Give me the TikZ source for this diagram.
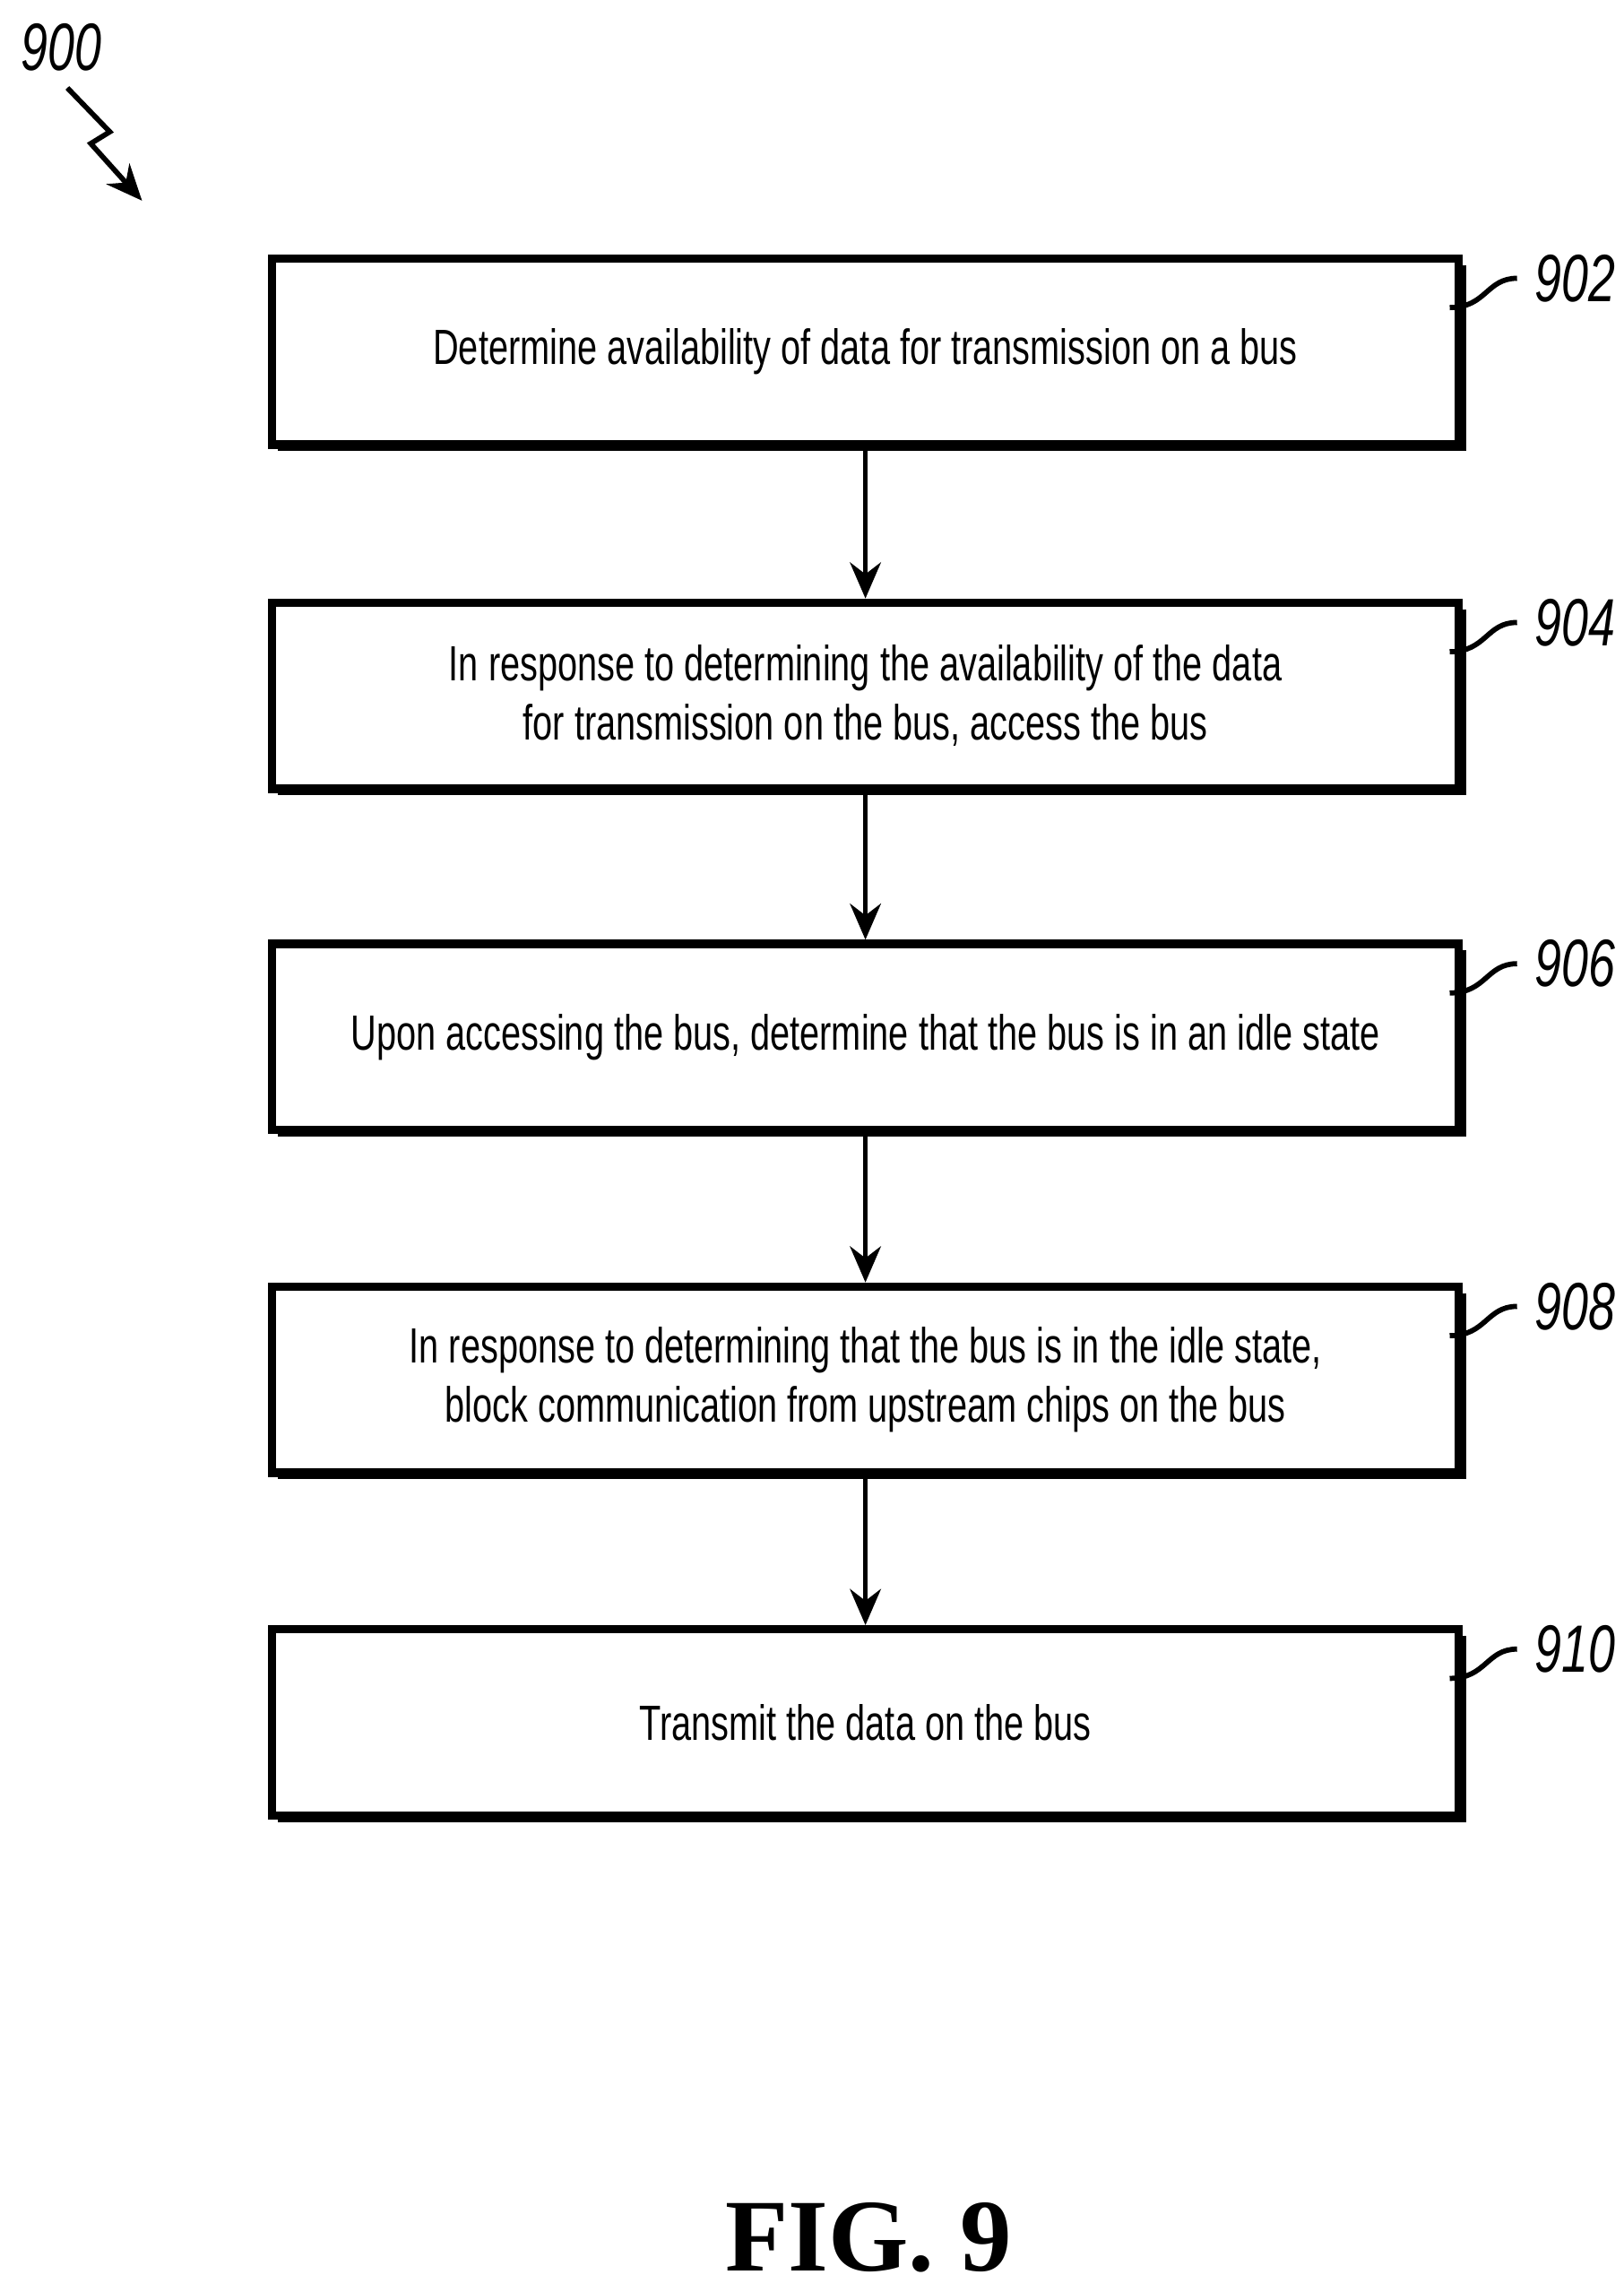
\documentclass[tikz,border=0pt]{standalone}
\usepackage{fontspec}
\setmainfont{Liberation Sans}[FakeStretch=0.72]
\newfontfamily\figfont{Liberation Serif}
\usetikzlibrary{arrows.meta}
\begin{document}
\begin{tikzpicture}[x=0.01cm,y=-0.01cm,
  stepbox/.style={draw,line width=1.6pt,fill=white,minimum width=8.1cm,minimum height=1.27cm,inner sep=0pt,align=center,font=\fontsize{9.6}{11.5}\selectfont},
  num/.style={font=\fontsize{13}{13}\selectfont\itshape,anchor=west},
  arr/.style={-{Stealth[length=7pt,width=6pt]},line width=1pt}]
\useasboundingbox (0,0) rectangle (1109,1565);
\foreach \n/\y/\t/\l in {a/240/{Determine availability of data for transmission on a bus}/902,
 b/475/{In response to determining the availability of the data\\for transmission on the bus, access the bus}/904,
 c/708/{Upon accessing the bus, determine that the bus is in an idle state}/906,
 d/942/{In response to determining that the bus is in the idle state,\\block communication from upstream chips on the bus}/908,
 e/1176/{Transmit the data on the bus}/910}{
  \fill (190,\y-59) rectangle (1001,\y+68);
  \node[stepbox] (\n) at (591,\y) {\t};
  \node[num] (l\n) at (1036,\y-50) {\l};
  \coordinate (s\n) at (990,\y-30);
  \draw[line width=1pt] (s\n) .. controls (1015,\y-30) and (1015,\y-50) .. (l\n.west);
}
\foreach \p/\q in {a/b,b/c,c/d,d/e} \draw[arr] (\p.south) -- (\q.north);
\node[num,anchor=center] (n900) at (42,32) {900};
\coordinate (z1) at (46,60); \coordinate (z2) at (97,137);
\draw[line width=1pt,-{Stealth[length=7pt,width=6pt]}] (z1) -- (75,90) -- (62,98) -- (z2);
\node[font=\figfont\fontsize{20}{20}\selectfont\bfseries] (fig) at (593,1528) {FIG. 9};
\end{tikzpicture}
\end{document}
